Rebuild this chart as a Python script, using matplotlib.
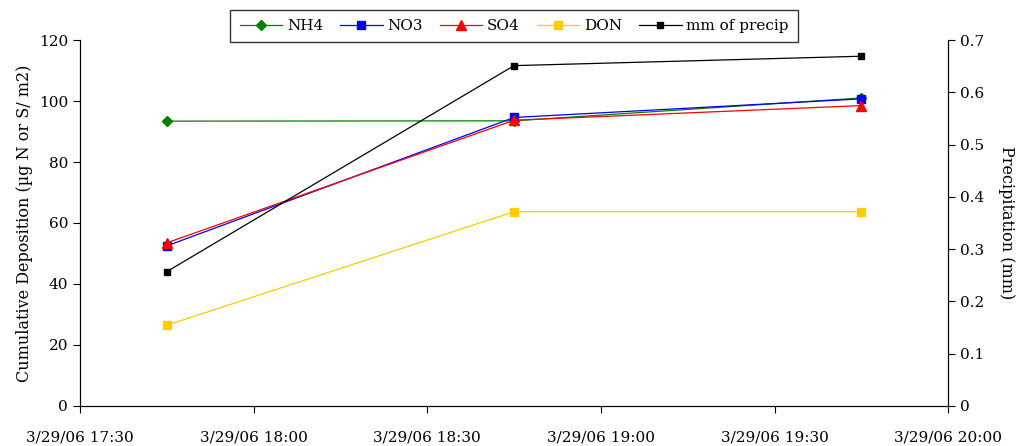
import datetime as dt

import matplotlib.pyplot as plt
import matplotlib.dates as mdates

# sample times and series values
times = [dt.datetime(2006, 3, 29, 17, 45), dt.datetime(2006, 3, 29, 18, 45), dt.datetime(2006, 3, 29, 19, 45)]
nh4 = [93.4, 93.5, 101.0]
no3 = [52.5, 94.6, 100.7]
so4 = [53.5, 93.7, 98.5]
don = [26.5, 63.7, 63.7]
precip = [0.257, 0.651, 0.669]

plt.rcParams["font.family"] = ["DejaVu Serif"]

fig = plt.figure(figsize=(10.19, 4.46), dpi=100)
ax = fig.add_axes([0.0785, 0.0897, 0.852, 0.8206])
ax2 = ax.twinx()

l1, = ax.plot(times, nh4, color="#008000", marker="D", markersize=5, linewidth=0.9, label="NH4")
l2, = ax.plot(times, no3, color="#0000FF", marker="s", markersize=6, linewidth=0.9, label="NO3")
l3, = ax.plot(times, so4, color="#FF0000", marker="^", markersize=7, linewidth=0.9, label="SO4")
l4, = ax.plot(times, don, color="#FFCC00", marker="s", markersize=6, linewidth=0.9, label="DON")
l5, = ax2.plot(times, precip, color="black", marker="s", markersize=4, linewidth=0.9, label="mm of precip")

ax.set_xlim(dt.datetime(2006, 3, 29, 17, 30), dt.datetime(2006, 3, 29, 20, 0))
ax.xaxis.set_major_locator(mdates.MinuteLocator(byminute=[0, 30]))
ax.xaxis.set_major_formatter(mdates.DateFormatter("%-m/%d/%y %H:%M"))

ax.set_ylim(0, 120)
ax.set_yticks(range(0, 121, 20))
ax2.set_ylim(0, 0.7)
ax2.set_yticks([0, 0.1, 0.2, 0.3, 0.4, 0.5, 0.6, 0.7])
ax2.set_yticklabels(["0", "0.1", "0.2", "0.3", "0.4", "0.5", "0.6", "0.7"])

ax.set_ylabel("Cumulative Deposition (\u00b5g N or S/ m2)", fontsize=11.5, labelpad=4)
ax2.set_ylabel("Precipitation (mm)", fontsize=11.5, rotation=270, labelpad=22)

for a in (ax, ax2):
    a.tick_params(axis="both", labelsize=11, direction="out", length=5, width=0.8)
    a.spines["top"].set_visible(False)
ax.tick_params(axis="x", pad=13)

ax.legend(handles=[l1, l2, l3, l4, l5], loc="lower center", bbox_to_anchor=(0.5, 0.994),
          ncol=5, fontsize=11, frameon=True, fancybox=False, edgecolor="black",
          handlelength=2.8, columnspacing=1.1, handletextpad=0.3, borderpad=0.6,
          borderaxespad=0)

fig.savefig("out.png", dpi=100, facecolor="white")
